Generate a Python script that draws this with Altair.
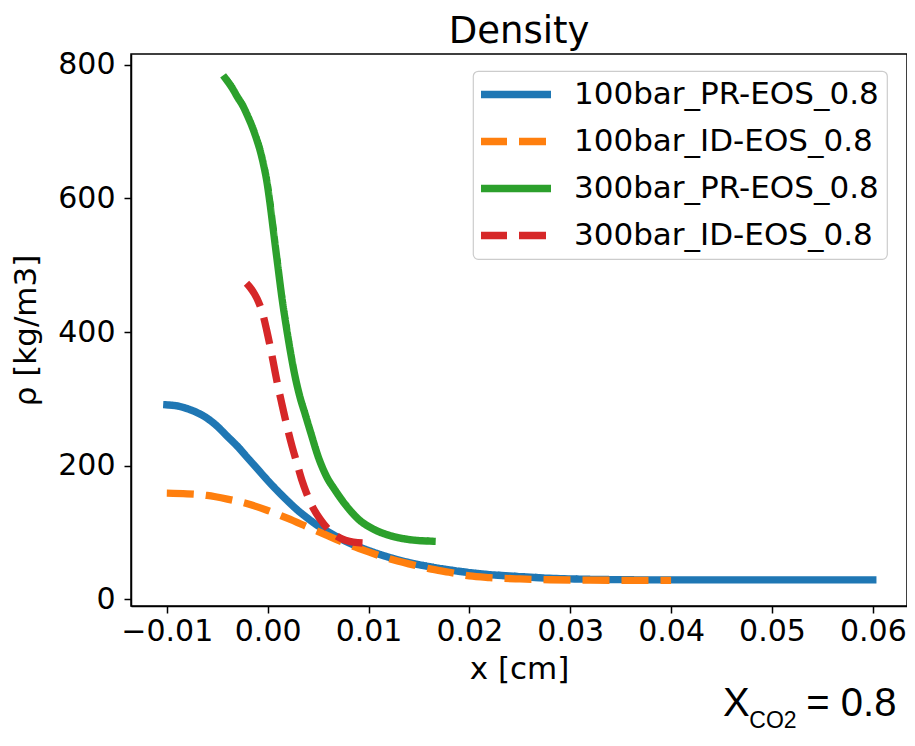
import altair as alt
import pandas as pd

names = ["100bar_PR-EOS_0.8", "100bar_ID-EOS_0.8", "300bar_PR-EOS_0.8", "300bar_ID-EOS_0.8"]
colors = ["#1f77b4", "#ff7f0e", "#2ca02c", "#d62728"]
dashes = [[1, 0], [27, 12], [1, 0], [27, 12]]

x_100_pr = [-0.010, -0.009, -0.008, -0.007, -0.006, -0.005, -0.004, -0.003, -0.002, -0.001, 0.000, 0.001,
            0.002, 0.003, 0.004, 0.005, 0.006, 0.007, 0.008, 0.010, 0.012,
            0.014, 0.016, 0.018, 0.020, 0.022, 0.025, 0.028, 0.032, 0.036, 0.040, 0.050, 0.060]
rho_100_pr = [291, 289.5, 285.5, 279.5, 271, 259, 244, 229, 212, 195, 178, 162,
              147, 133, 121, 110, 101, 92.5, 85, 73, 63,
              55, 49, 44, 40, 37, 34, 31.5, 30, 29.3, 29, 29, 29]

x_100_id = [-0.010, -0.008, -0.006, -0.004, -0.002, 0.000, 0.002, 0.004, 0.006, 0.008, 0.010, 0.012,
            0.014, 0.016, 0.018, 0.020, 0.022, 0.025, 0.028, 0.032, 0.036, 0.040]
rho_100_id = [159, 158, 155.5, 150, 143, 133, 121, 108, 95, 82, 71, 61,
              53, 46, 40.5, 35, 32.5, 30.5, 29.3, 28.7, 28.4, 28.3]

x_300_pr = [-0.0042, -0.0035, -0.0030, -0.0024, -0.0020, -0.0015, -0.0011, -0.0007, -0.0004, -0.0001,
            0.0002, 0.00055, 0.0010, 0.0014, 0.0019, 0.0023, 0.0027, 0.0032, 0.0037, 0.0043, 0.0050,
            0.0058, 0.0067, 0.0078, 0.0090, 0.0105, 0.0120, 0.0140, 0.0163]
rho_300_pr = [780, 765, 752, 737, 724, 706, 689, 669, 650, 627,
              596, 554, 500, 453, 403, 367, 335, 303, 278, 248, 214,
              185, 163, 140, 120, 105, 96, 89.5, 87]

x_300_id = [-0.0021, -0.0017, -0.0013, -0.0009, -0.0005, -0.0001, 0.0004, 0.0009, 0.0014, 0.0019,
            0.0024, 0.0029, 0.0034, 0.0038, 0.0045, 0.0052, 0.0060, 0.0068, 0.0077, 0.0085, 0.0099]
rho_300_id = [473, 466, 457, 445, 428, 403, 367, 328, 293, 260,
              230, 204, 178, 161, 137, 120, 105, 95, 88.5, 85.5, 84]

x_ticks = [-0.01, 0.0, 0.01, 0.02, 0.03, 0.04, 0.05, 0.06]
y_ticks = [0, 200, 400, 600, 800]
annot_parts = ["X", "CO2", "= 0.8"]

series_x = [x_100_pr, x_100_id, x_300_pr, x_300_id]
series_y = [rho_100_pr, rho_100_id, rho_300_pr, rho_300_id]

FONT = "DejaVu Sans"
W, H = 776, 552

xscale = alt.Scale(domain=[-0.01355, 0.06339], nice=False, zero=False)
yscale = alt.Scale(domain=[-10, 816.3], nice=False, zero=False)

xaxis = alt.Axis(values=x_ticks, format=".2f", title="x [cm]", grid=False,
                 labelFont=FONT, labelFontSize=30, labelColor="black", labelPadding=3,
                 tickSize=7, tickWidth=1.5, tickColor="black",
                 domainColor="black", domainWidth=1.5,
                 titleFont=FONT, titleFontSize=31, titleFontWeight="normal", titleColor="black",
                 titleX=W / 2, titleY=72, titleBaseline="alphabetic", titleAlign="center")
yaxis = alt.Axis(values=y_ticks, format="d", title="ρ [kg/m3]", grid=False,
                 labelFont=FONT, labelFontSize=30, labelColor="black", labelPadding=9,
                 tickSize=7, tickWidth=1.5, tickColor="black",
                 domainColor="black", domainWidth=1.5,
                 titleFont=FONT, titleFontSize=31, titleFontWeight="normal", titleColor="black",
                 titleX=-96, titleY=H / 2, titleAngle=270, titleBaseline="alphabetic", titleAlign="center")

legend = alt.Legend(title=None, orient="none", legendX=342, legendY=17)

layers = []
for i in range(len(names)):
    df = pd.DataFrame({"x": series_x[i], "rho": series_y[i], "series": names[i]})
    cap = "square" if dashes[i] == [1, 0] else "butt"
    layers.append(
        alt.Chart(df).mark_line(strokeWidth=7.3, strokeCap=cap, interpolate="monotone").encode(
            x=alt.X("x:Q", scale=xscale, axis=xaxis),
            y=alt.Y("rho:Q", scale=yscale, axis=yaxis),
            color=alt.Color("series:N", scale=alt.Scale(domain=names, range=colors), legend=legend),
            strokeDash=alt.StrokeDash("series:N", scale=alt.Scale(domain=names, range=dashes), legend=legend),
        )
    )

ann_df = pd.DataFrame({"t": annot_parts})
t1 = alt.Chart(ann_df.iloc[[0]]).mark_text(font="Liberation Sans", fontSize=40, align="left",
                                           baseline="alphabetic", color="black").encode(
    text="t:N", x=alt.value(592), y=alt.value(662))
t2 = alt.Chart(ann_df.iloc[[1]]).mark_text(font="Liberation Sans", fontSize=23, align="left",
                                           baseline="alphabetic", color="black").encode(
    text="t:N", x=alt.value(618.3), y=alt.value(674))
t3 = alt.Chart(ann_df.iloc[[2]]).mark_text(font="Liberation Sans", fontSize=40, align="left",
                                           baseline="alphabetic", color="black").encode(
    text="t:N", x=alt.value(675.3), y=alt.value(662))

chart = alt.layer(*layers, t1, t2, t3).properties(
    width=W, height=H,
    title=alt.TitleParams("Density", font=FONT, fontSize=37, fontWeight="normal", color="black",
                          anchor="middle", frame="group", baseline="alphabetic", offset=10, dy=40),
    padding={"left": 123, "top": 46, "right": 0, "bottom": 128},
    autosize=alt.AutoSizeParams(type="none"),
).configure_view(
    stroke="black", strokeWidth=1.5
).configure_legend(
    padding=8, fillColor="white", strokeColor="#cccccc", strokeWidth=1.2, cornerRadius=5,
    symbolType="stroke", symbolSize=5041, symbolStrokeWidth=7.3,
    labelFont=FONT, labelFontSize=31, labelColor="black", labelOffset=19, labelLimit=500,
    rowPadding=15, symbolOffset=-5, clipHeight=31,
)

chart.save("out.html", embed_options={"renderer": "svg", "actions": False})
